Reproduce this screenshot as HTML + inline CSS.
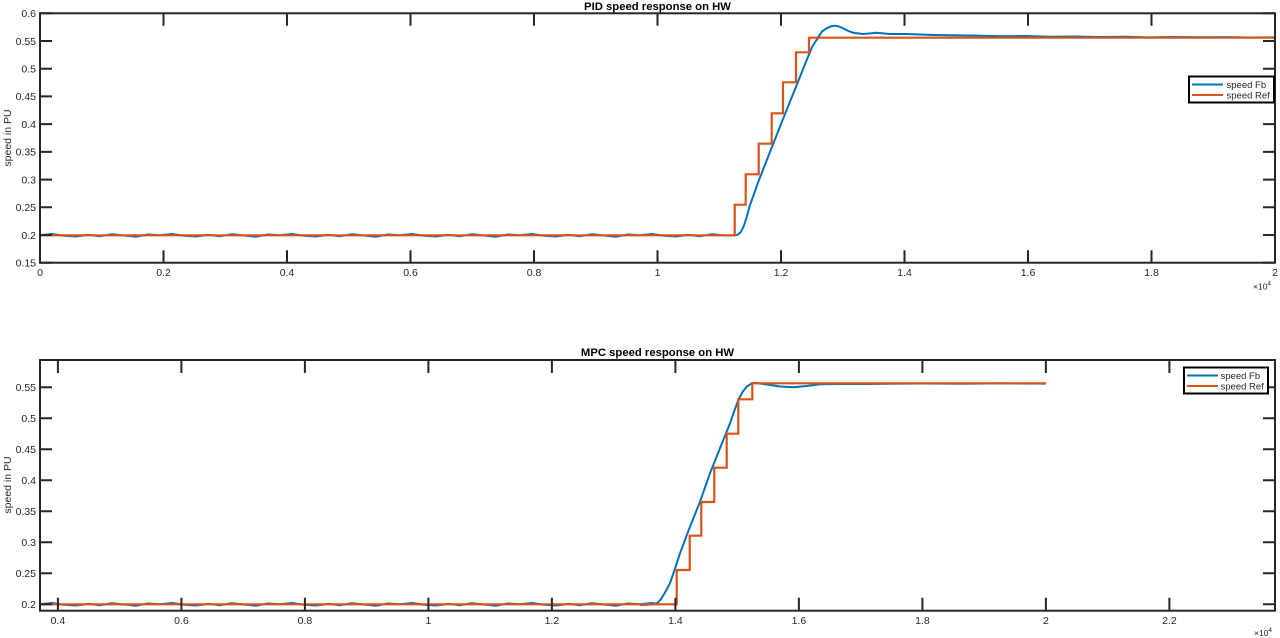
<!DOCTYPE html>
<html><head><meta charset="utf-8"><style>
html,body{margin:0;padding:0;background:#fff;}
svg{display:block;font-family:"Liberation Sans",Arial,sans-serif;}
.ax{stroke:#262626;stroke-width:2;fill:none;}
.tk{stroke:#262626;stroke-width:2;}
.tl{font-size:10.5px;fill:#262626;}
.bl{stroke:#0072BD;stroke-width:2;fill:none;stroke-linejoin:round;}
.or{stroke:#D95319;stroke-width:2.2;fill:none;}
.tt{font-size:11.3px;font-weight:bold;fill:#000;}
.lg{font-size:9.5px;fill:#262626;}
</style></head><body>
<svg width="1280" height="638" viewBox="0 0 1280 638" xmlns="http://www.w3.org/2000/svg">
<defs>
<path id="noise" d="M40,235.3 L52,234.0 64,235.8 76,236.5 88,234.9 100,236.2 112,234.2 124,235.5 136,236.7 148,234.5 160,235.3 172,234.0 184,235.8 196,236.5 208,234.9 220,236.2 232,234.2 244,235.5 256,236.7 268,234.5 280,235.3 292,234.0 304,235.8 316,236.5 328,234.9 340,236.2 352,234.2 364,235.5 376,236.7 388,234.5 400,235.3 412,234.0 424,235.8 436,236.5 448,234.9 460,236.2 472,234.2 484,235.5 496,236.7 508,234.5 520,235.3 532,234.0 544,235.8 556,236.5 568,234.9 580,236.2 592,234.2 604,235.5 616,236.7 628,234.5 640,235.3 652,234.0 664,235.8 676,236.5 688,234.9 700,236.2 712,234.2 724,235.5 735,235.3"/>
<clipPath id="c1"><rect x="40" y="13" width="1235" height="250"/></clipPath>
<clipPath id="c2"><rect x="40" y="360" width="617" height="251"/></clipPath>
</defs>

<!-- ================= TOP PLOT ================= -->
<text class="tt" x="657.5" y="10" text-anchor="middle">PID speed response on HW</text>
<text class="tl" transform="translate(11,138) rotate(-90)" text-anchor="middle">speed in PU</text>

<g clip-path="url(#c1)">
<use href="#noise" class="bl"/>
<path class="bl" d="M735,235.3 L738,234.6 741,231.8 744,225.5 747,216 750,205 754,194 758,182.6 770,152 783,119 796.7,85 806.7,60 812,47 818,37.7 822,31.5 826.7,28.3 831,26.3 835,25.7 839,26.5 843,28.3 848,30.8 853,32.7 863,34 876.7,32.7 890,34 906.7,34 933,35 950,35.3 975,35.6 1000,36.2 1025,36.0 1050,36.8 1075,36.5 1100,37 1125,36.8 1150,37.4 1175,37.0 1200,37.3 1225,37.1 1250,37.5 1275,37.3"/>
<path class="or" d="M40,235.3 H734.7 V204.7 H745.7 V174.3 H758.7 V143.7 H771.7 V113.3 H783 V82.3 H796 V52.3 H809 V37.7 H1275"/>
</g>

<rect class="ax" x="40" y="13.3" width="1235" height="249.4"/>
<g class="tk">
<path d="M40,262.7v-12.5M163.5,262.7v-12.5M287,262.7v-12.5M410.5,262.7v-12.5M534,262.7v-12.5M657.5,262.7v-12.5M781,262.7v-12.5M904.5,262.7v-12.5M1028,262.7v-12.5M1151.5,262.7v-12.5M1275,262.7v-12.5"/>
<path d="M40,13.3v12.5M163.5,13.3v12.5M287,13.3v12.5M410.5,13.3v12.5M534,13.3v12.5M657.5,13.3v12.5M781,13.3v12.5M904.5,13.3v12.5M1028,13.3v12.5M1151.5,13.3v12.5M1275,13.3v12.5"/>
<path d="M40,262.7h12M40,235h12M40,207.3h12M40,179.6h12M40,151.9h12M40,124.1h12M40,96.4h12M40,68.7h12M40,41h12M40,13.3h12"/>
<path d="M1275,262.7h-12M1275,235h-12M1275,207.3h-12M1275,179.6h-12M1275,151.9h-12M1275,124.1h-12M1275,96.4h-12M1275,68.7h-12M1275,41h-12M1275,13.3h-12"/>
</g>
<g class="tl" text-anchor="middle">
<text x="40" y="276">0</text><text x="163.5" y="276">0.2</text><text x="287" y="276">0.4</text><text x="410.5" y="276">0.6</text><text x="534" y="276">0.8</text><text x="657.5" y="276">1</text><text x="781" y="276">1.2</text><text x="904.5" y="276">1.4</text><text x="1028" y="276">1.6</text><text x="1151.5" y="276">1.8</text><text x="1275" y="276">2</text>
</g>
<g class="tl" text-anchor="end">
<text x="36" y="266.5">0.15</text><text x="36" y="238.8">0.2</text><text x="36" y="211.1">0.25</text><text x="36" y="183.4">0.3</text><text x="36" y="155.7">0.35</text><text x="36" y="127.9">0.4</text><text x="36" y="100.2">0.45</text><text x="36" y="72.5">0.5</text><text x="36" y="44.8">0.55</text><text x="36" y="17.1">0.6</text>
</g>
<text x="1253" y="289.5" style="font-size:8.5px;fill:#262626">×10<tspan dy="-4" style="font-size:6.5px">4</tspan></text>

<rect x="1189" y="76.5" width="85" height="26" fill="#fff" stroke="#000" stroke-width="2"/>
<line x1="1192" y1="84.5" x2="1223" y2="84.5" stroke="#0072BD" stroke-width="2"/>
<line x1="1192" y1="95" x2="1223" y2="95" stroke="#D95319" stroke-width="2"/>
<text class="lg" x="1226.5" y="88">speed Fb</text>
<text class="lg" x="1226.5" y="98.5">speed Ref</text>

<!-- ================= BOTTOM PLOT ================= -->
<text class="tt" x="657.5" y="356" text-anchor="middle">MPC speed response on HW</text>
<text class="tl" transform="translate(11,485) rotate(-90)" text-anchor="middle">speed in PU</text>

<g clip-path="url(#c2)">
<use href="#noise" class="bl" transform="translate(0,369)"/>
</g>
<path class="bl" d="M640,605 L650,604.6 655,604.2 658,602.5 661,599 665,592.5 670,583.3 675,568.5 680,553.3 690,526.7 700,501.7 710,473.3 720,448.3 730,423.3 735,409 738.3,400 742.5,392 746.7,386.7 751.7,383.3 755,383 760,383.5 770,385 780,386.5 793.3,387.3 806.7,386 820,384.3 840,384 870,384 920,383.5 960,383.8 1000,383.4 1045.9,383.6"/>
<path class="or" d="M40,604.3 H676.7 V570 H689.7 V535.7 H701.3 V502 H714.3 V467.7 H726.7 V433.7 H738.3 V399.3 H752.3 V383.3 H1045.9"/>

<rect class="ax" x="40" y="360" width="1235" height="250.7"/>
<g class="tk">
<path d="M57.9,610.7v-13M181.4,610.7v-13M304.9,610.7v-13M428.4,610.7v-13M551.9,610.7v-13M675.4,610.7v-13M798.9,610.7v-13M922.4,610.7v-13M1045.9,610.7v-13M1169.4,610.7v-13"/>
<path d="M57.9,360v13M181.4,360v13M304.9,360v13M428.4,360v13M551.9,360v13M675.4,360v13M798.9,360v13M922.4,360v13M1045.9,360v13M1169.4,360v13"/>
<path d="M40,604.3h12M40,573.3h12M40,542.3h12M40,511.3h12M40,480.3h12M40,449.3h12M40,418.3h12M40,387.3h12"/>
<path d="M1275,604.3h-12M1275,573.3h-12M1275,542.3h-12M1275,511.3h-12M1275,480.3h-12M1275,449.3h-12M1275,418.3h-12M1275,387.3h-12"/>
</g>
<g class="tl" text-anchor="middle">
<text x="57.9" y="624">0.4</text><text x="181.4" y="624">0.6</text><text x="304.9" y="624">0.8</text><text x="428.4" y="624">1</text><text x="551.9" y="624">1.2</text><text x="675.4" y="624">1.4</text><text x="798.9" y="624">1.6</text><text x="922.4" y="624">1.8</text><text x="1045.9" y="624">2</text><text x="1169.4" y="624">2.2</text>
</g>
<g class="tl" text-anchor="end">
<text x="36" y="608.1">0.2</text><text x="36" y="577.1">0.25</text><text x="36" y="546.1">0.3</text><text x="36" y="515.1">0.35</text><text x="36" y="484.1">0.4</text><text x="36" y="453.1">0.45</text><text x="36" y="422.1">0.5</text><text x="36" y="391.1">0.55</text>
</g>
<text x="1254" y="636" style="font-size:8.5px;fill:#262626">×10<tspan dy="-4" style="font-size:6.5px">4</tspan></text>

<rect x="1184" y="367.5" width="84" height="26" fill="#fff" stroke="#000" stroke-width="2"/>
<line x1="1187" y1="375.5" x2="1218" y2="375.5" stroke="#0072BD" stroke-width="2"/>
<line x1="1187" y1="386" x2="1218" y2="386" stroke="#D95319" stroke-width="2"/>
<text class="lg" x="1220.5" y="379">speed Fb</text>
<text class="lg" x="1220.5" y="389.5">speed Ref</text>
</svg>
</body></html>
